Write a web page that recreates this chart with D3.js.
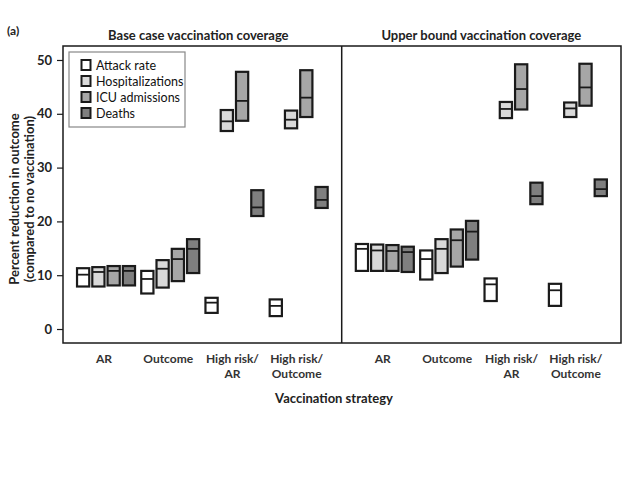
<!DOCTYPE html>
<html><head><meta charset="utf-8">
<script src="https://cdn.jsdelivr.net/npm/d3@7"></script>
<style>body{margin:0;background:#fff}svg{display:block}text{font-family:Lato,"Open Sans",sans-serif}</style>
</head><body>
<svg id="c" width="640" height="480"></svg>
<script>
// ---------- data ----------
const strategies = ["AR", "Outcome", "High risk/|AR", "High risk/|Outcome"];
const outcomes = ["Attack rate", "Hospitalizations", "ICU admissions", "Deaths"];
const panelTitles = ["Base case vaccination coverage", "Upper bound vaccination coverage"];
const yTicks = [0, 10, 20, 30, 40, 50];
const fills = ["#ffffff", "#d9d9d9", "#a6a6a6", "#7f7f7f"];

// values [strategy][outcome]
const baseLow  = [[7.9, 7.9, 8.1, 8.1], [6.6, 7.7, 8.9, 10.4], [3.0, 36.8, 38.7, 21.0], [2.4, 37.3, 39.4, 22.5]];
const baseMid  = [[10.1, 10.6, 10.8, 10.8], [9.3, 11.2, 13.0, 14.9], [4.9, 38.6, 42.4, 22.6], [4.3, 38.9, 43.0, 24.0]];
const baseHigh = [[11.3, 11.5, 11.7, 11.7], [10.8, 12.8, 14.9, 16.7], [5.8, 40.7, 47.8, 25.8], [5.5, 40.6, 48.1, 26.4]];
const upLow    = [[10.8, 10.8, 10.8, 10.6], [9.2, 10.4, 11.6, 12.9], [5.2, 39.2, 40.8, 23.2], [4.3, 39.4, 41.5, 24.7]];
const upMid    = [[14.9, 14.6, 14.5, 14.3], [13.0, 14.9, 16.5, 18.1], [8.3, 40.9, 44.6, 24.7], [7.2, 41.0, 44.9, 26.0]];
const upHigh   = [[15.8, 15.7, 15.6, 15.3], [14.6, 16.7, 18.5, 20.1], [9.4, 42.2, 49.2, 27.2], [8.4, 42.1, 49.3, 27.8]];
const panelData = [[baseLow, baseMid, baseHigh], [upLow, upMid, upHigh]];

(function () {
// ---------- layout ----------
const svg = d3.select("#c");
const yTop = 46, yBot = 343, xL = 63, xM = 341.7, xR = 621;
const y = d3.scaleLinear().domain([-2.6, 52.6]).range([yBot, yTop]);
const ink = "#1a1a1a";

// frame
svg.append("rect").attr("x", xL).attr("y", yTop).attr("width", xR - xL).attr("height", yBot - yTop)
  .attr("fill", "none").attr("stroke", ink).attr("stroke-width", 1.5);
svg.append("line").attr("x1", xM).attr("x2", xM).attr("y1", yTop).attr("y2", yBot)
  .attr("stroke", ink).attr("stroke-width", 1.5);

// y axis
const yAxis = d3.axisLeft(y).tickValues(yTicks).tickSize(6).tickPadding(5);
const gy = svg.append("g").attr("transform", `translate(${xL},0)`).call(yAxis);
gy.select(".domain").remove();
gy.selectAll(".tick line").attr("stroke", ink).attr("stroke-width", 1.2);
gy.selectAll(".tick text").attr("font-size", 13).attr("font-weight", "bold").attr("fill", "#222")
  .style("font-family", "Lato, sans-serif");

// y title
const yt = svg.append("text").attr("transform", `translate(0,199) rotate(-90)`)
  .attr("text-anchor", "middle").attr("font-size", 13).attr("font-weight", "bold").attr("fill", "#222");
yt.append("tspan").attr("x", 0).attr("y", 19).text("Percent reduction in outcome");
yt.append("tspan").attr("x", 0).attr("y", 34).text("(compared to no vaccination)");

// panels
panelTitles.forEach((title, p) => {
  const x0 = p === 0 ? xL : xM, x1 = p === 0 ? xM : xR;
  const gx = d3.scaleBand().domain(d3.range(strategies.length)).range([x0, x1]).paddingOuter(0.17).paddingInner(0);
  const ox = d3.scaleBand().domain(d3.range(outcomes.length)).range([0, 58]).paddingInner(0.2);
  const [lo, md, hi] = panelData[p];

  svg.append("text").attr("x", (x0 + x1) / 2 - (p === 0 ? 4 : 0)).attr("y", 40).attr("text-anchor", "middle")
    .attr("font-size", 13).attr("font-weight", "bold").attr("fill", "#222").text(title);

  strategies.forEach((s, si) => {
    const cx = gx(si) + gx.bandwidth() / 2;
    const lines = s.split("|");
    const t = svg.append("text").attr("text-anchor", "middle").attr("font-size", 12)
      .attr("font-weight", "bold").attr("fill", "#333");
    lines.forEach((l, li) => t.append("tspan").attr("x", cx - 2).attr("y", 363 + li * 15).text(l));

    const g = svg.append("g").attr("transform", `translate(${cx - 29},0)`);
    outcomes.forEach((o, oi) => {
      const bx = ox(oi), bw = ox.bandwidth();
      g.append("rect").attr("x", bx).attr("width", bw)
        .attr("y", y(hi[si][oi])).attr("height", y(lo[si][oi]) - y(hi[si][oi]))
        .attr("fill", fills[oi]).attr("stroke", ink).attr("stroke-width", 2.2);
      g.append("line").attr("x1", bx).attr("x2", bx + bw)
        .attr("y1", y(md[si][oi])).attr("y2", y(md[si][oi]))
        .attr("stroke", ink).attr("stroke-width", 1.8);
    });
  });
});

// x title
svg.append("text").attr("x", 334).attr("y", 403).attr("text-anchor", "middle")
  .attr("font-size", 13).attr("font-weight", "bold").attr("fill", "#222").text("Vaccination strategy");

// panel tag
svg.append("text").attr("x", 7).attr("y", 35).attr("font-size", 12).attr("font-weight", "bold")
  .attr("fill", "#222").text("(a)");

// legend
const lg = svg.append("g");
lg.append("rect").attr("x", 69).attr("y", 52).attr("width", 116).attr("height", 75)
  .attr("fill", "#fff").attr("stroke", "#888").attr("stroke-width", 1.2);
const ly = d3.scalePoint().domain(outcomes).range([65, 113]);
outcomes.forEach((o, i) => {
  lg.append("rect").attr("x", 81.5).attr("y", ly(o) - 5).attr("width", 9).attr("height", 10)
    .attr("fill", fills[i]).attr("stroke", ink).attr("stroke-width", 2);
  lg.append("text").attr("x", 96).attr("y", ly(o) + 4.5).attr("font-size", 12.5).attr("fill", "#111").text(o);
});
})();
</script>
</body></html>
